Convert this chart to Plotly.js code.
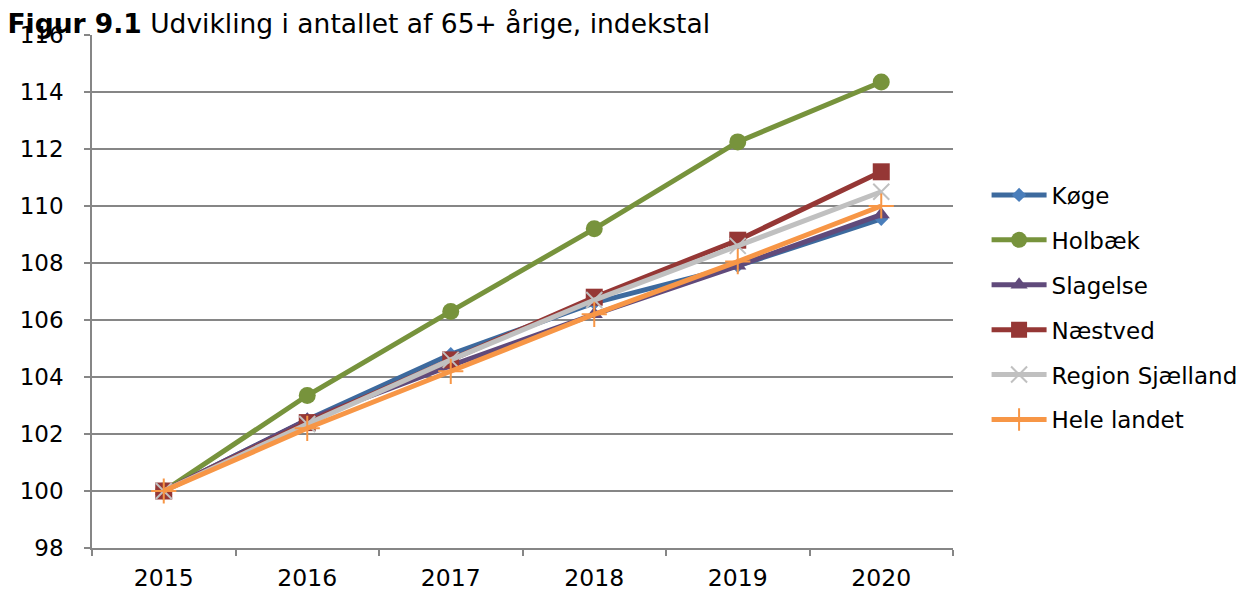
<!DOCTYPE html>
<html>
<head>
<meta charset="utf-8">
<script src="https://cdn.plot.ly/plotly-3.0.1.min.js"></script>
<style>html,body{margin:0;padding:0;background:#fff;}#chart{width:1252px;height:593px;}</style>
</head>
<body>
<div id="chart"></div>
<script>
const years = ["2015", "2016", "2017", "2018", "2019", "2020"];
const koege = [100, 102.5, 104.8, 106.6, 107.9, 109.55];
const holbaek = [100, 103.35, 106.3, 109.2, 112.25, 114.35];
const slagelse = [100, 102.5, 104.4, 106.2, 107.9, 109.7];
const naestved = [100, 102.4, 104.6, 106.8, 108.8, 111.2];
const region = [100, 102.35, 104.6, 106.7, 108.6, 110.5];
const hele = [100, 102.2, 104.2, 106.2, 108.05, 110.0];

const names = ["Køge", "Holbæk", "Slagelse", "Næstved", "Region Sjælland", "Hele landet"];
const series = [koege, holbaek, slagelse, naestved, region, hele];
const colors = ["#3D6A9E", "#77933C", "#604A7B", "#953735", "#C0C0C0", "#F79646"];
const markerColors = ["#4A7EBB", "#77933C", "#604A7B", "#953735", "#C0C0C0", "#F79646"];
const symbols = ["diamond", "circle", "triangle-up", "square", "x-thin-open", "cross-thin-open"];
const sizes = [11, 17, 15, 17, 16, 18];

const traces = series.map((vals, i) => ({
  x: years,
  y: vals,
  name: names[i],
  type: "scatter",
  mode: "lines+markers",
  legendgroup: "g" + i,
  line: {color: colors[i], width: 5},
  marker: {
    symbol: symbols[i],
    size: sizes[i],
    color: markerColors[i],
    line: {color: markerColors[i], width: (i >= 4 ? 2 : 0)}
  }
}));

const font = {family: "DejaVu Sans, Verdana, sans-serif", color: "#000"};

const layout = {
  width: 1252,
  height: 593,
  margin: {l: 92, r: 299, t: 35, b: 45, autoexpand: false},
  paper_bgcolor: "#fff",
  plot_bgcolor: "#fff",
  font: font,
  showlegend: true,
  title: {
    text: "<b>Figur 9.1</b> Udvikling i antallet af 65+ årige, indekstal",
    font: {family: font.family, size: 26.5, color: "#000"},
    x: 0.006, xanchor: "left", xref: "container",
    y: 0.975, yanchor: "top", yref: "container"
  },
  xaxis: {
    type: "category",
    tickson: "boundaries",
    ticks: "outside",
    ticklen: 6,
    tickcolor: "#868686",
    tickwidth: 1.5,
    showline: true,
    linecolor: "#868686",
    linewidth: 1.5,
    showgrid: false,
    ticklabelstandoff: 8,
    tickfont: {family: font.family, size: 23.5, color: "#000"},
    range: [-0.5, 5.5]
  },
  yaxis: {
    range: [98, 116],
    dtick: 2,
    tick0: 98,
    ticks: "outside",
    ticklen: 6,
    tickcolor: "#868686",
    tickwidth: 1.5,
    showline: true,
    linecolor: "#868686",
    linewidth: 1.5,
    showgrid: true,
    gridcolor: "#868686",
    gridwidth: 1.5,
    zeroline: false,
    ticklabelstandoff: 16,
    tickfont: {family: font.family, size: 23, color: "#000"}
  },
  legend: {
    x: 1.039,
    xanchor: "left",
    y: 0.73,
    yanchor: "top",
    itemwidth: 55,
    font: {family: font.family, size: 23, color: "#000"},
    tracegroupgap: 12,
    bgcolor: "rgba(0,0,0,0)"
  }
};

Plotly.newPlot("chart", traces, layout, {displayModeBar: false});
</script>
</body>
</html>
